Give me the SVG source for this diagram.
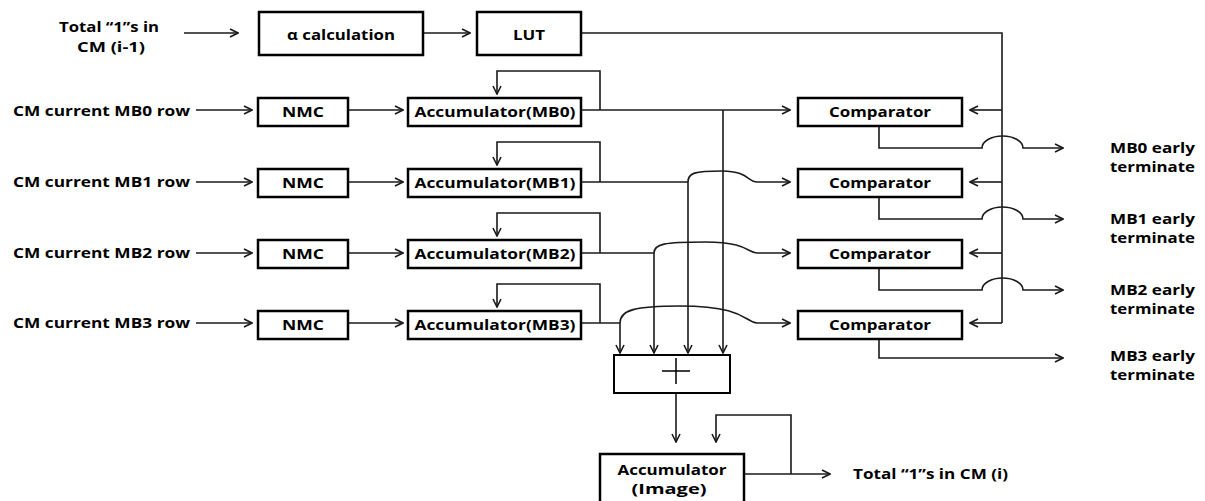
<svg xmlns="http://www.w3.org/2000/svg" width="1205" height="501" viewBox="0 0 1205 501">
<style>
.box{fill:#fff;stroke:#000;stroke-width:2.5}
.c{fill:none;stroke:#1a1a1a;stroke-width:1.6}
.ca{fill:none;stroke:#1a1a1a;stroke-width:1.6;marker-end:url(#ah)}
text{font-family:"Open Sans","Liberation Sans",sans-serif;font-weight:700;font-size:15px;fill:#000}
.m{text-anchor:middle}
</style>
<defs>
<marker id="ah" viewBox="0 0 10 10" refX="9" refY="5" markerWidth="10" markerHeight="10" markerUnits="userSpaceOnUse" orient="auto">
<path d="M1,1 L9,5 L1,9" fill="none" stroke="#1a1a1a" stroke-width="1.6"/>
</marker>
</defs>
<rect width="1205" height="501" fill="#fff"/>

<g id="connectors">
<path class="ca" d="M184,33 H238"/>
<path class="ca" d="M423,33 H470"/>
<path class="c" d="M581,33 H1002 V323"/>
<path class="ca" d="M1002,110 H970"/>
<path class="ca" d="M1002,182 H970"/>
<path class="ca" d="M1002,253 H970"/>
<path class="ca" d="M1002,323 H970"/>

<path class="ca" d="M196,110 H252"/>
<path class="ca" d="M196,182 H252"/>
<path class="ca" d="M196,253 H252"/>
<path class="ca" d="M196,323 H252"/>

<path class="ca" d="M348,110 H403"/>
<path class="ca" d="M348,182 H403"/>
<path class="ca" d="M348,253 H403"/>
<path class="ca" d="M348,323 H403"/>

<path class="ca" d="M600,110 V71 H497 V94"/>
<path class="ca" d="M600,182 V142 H497 V165"/>
<path class="ca" d="M600,253 V213 H497 V236"/>
<path class="ca" d="M600,323 V284 H497 V307"/>

<path class="ca" d="M581,110 H790"/>
<path class="ca" d="M723,110 V353"/>
<path class="c" d="M581,182 H688"/>
<path class="ca" d="M688,182 V353"/>
<path class="ca" d="M688,182 C688,173 694,171 722,171 C748,171 748,182 757,182 H790"/>
<path class="c" d="M581,253 H654"/>
<path class="ca" d="M654,253 V353"/>
<path class="ca" d="M654,253 C654,244 664,242 705,242 C748,242 748,253 757,253 H790"/>
<path class="c" d="M581,323 H620"/>
<path class="ca" d="M620,323 V353"/>
<path class="ca" d="M620,323 C620,310 635,306 680,306 C745,306 745,322 757,323 H790"/>

<path class="ca" d="M879,126 V148 H982 A20.5,12 0 0 1 1023,148 H1063"/>
<path class="ca" d="M879,197 V219 H982 A20.5,12 0 0 1 1023,219 H1063"/>
<path class="ca" d="M879,268 V290 H982 A20.5,12 0 0 1 1023,290 H1063"/>
<path class="ca" d="M879,339 V358 H1063"/>

<path class="ca" d="M676,393 V442"/>
<path class="ca" d="M744,474 H830"/>
<path class="ca" d="M791,474 V415 H716 V442"/>
</g>

<g id="label-input">
<text x="59" y="32" textLength="100" lengthAdjust="spacingAndGlyphs">Total “1”s in</text>
<text x="77" y="52" textLength="68" lengthAdjust="spacingAndGlyphs">CM (i-1)</text>
</g>
<g id="alpha"><rect class="box" x="259" y="12" width="164" height="43"/><text class="m" x="341" y="40" textLength="108" lengthAdjust="spacingAndGlyphs">α calculation</text></g>
<g id="lut"><rect class="box" x="477" y="12" width="104" height="43"/><text class="m" x="529" y="40" textLength="32" lengthAdjust="spacingAndGlyphs">LUT</text></g>

<g id="label-mb0"><text x="13" y="116" textLength="177" lengthAdjust="spacingAndGlyphs">CM current MB0 row</text></g>
<g id="label-mb1"><text x="13" y="187" textLength="177" lengthAdjust="spacingAndGlyphs">CM current MB1 row</text></g>
<g id="label-mb2"><text x="13" y="258" textLength="177" lengthAdjust="spacingAndGlyphs">CM current MB2 row</text></g>
<g id="label-mb3"><text x="13" y="328" textLength="177" lengthAdjust="spacingAndGlyphs">CM current MB3 row</text></g>

<g id="nmc0"><rect class="box" x="258" y="98" width="90" height="28"/><text class="m" x="303" y="117" textLength="42" lengthAdjust="spacingAndGlyphs">NMC</text></g>
<g id="nmc1"><rect class="box" x="258" y="169" width="90" height="28"/><text class="m" x="303" y="188" textLength="42" lengthAdjust="spacingAndGlyphs">NMC</text></g>
<g id="nmc2"><rect class="box" x="258" y="240" width="90" height="28"/><text class="m" x="303" y="259" textLength="42" lengthAdjust="spacingAndGlyphs">NMC</text></g>
<g id="nmc3"><rect class="box" x="258" y="311" width="90" height="28"/><text class="m" x="303" y="330" textLength="42" lengthAdjust="spacingAndGlyphs">NMC</text></g>

<g id="acc0"><rect class="box" x="408" y="98" width="173" height="28"/><text class="m" x="495" y="117" textLength="161" lengthAdjust="spacingAndGlyphs">Accumulator(MB0)</text></g>
<g id="acc1"><rect class="box" x="408" y="169" width="173" height="28"/><text class="m" x="495" y="188" textLength="161" lengthAdjust="spacingAndGlyphs">Accumulator(MB1)</text></g>
<g id="acc2"><rect class="box" x="408" y="240" width="173" height="28"/><text class="m" x="495" y="259" textLength="161" lengthAdjust="spacingAndGlyphs">Accumulator(MB2)</text></g>
<g id="acc3"><rect class="box" x="408" y="311" width="173" height="28"/><text class="m" x="495" y="330" textLength="161" lengthAdjust="spacingAndGlyphs">Accumulator(MB3)</text></g>

<g id="cmp0"><rect class="box" x="798" y="98" width="164" height="28"/><text class="m" x="880" y="117" textLength="102" lengthAdjust="spacingAndGlyphs">Comparator</text></g>
<g id="cmp1"><rect class="box" x="798" y="169" width="164" height="28"/><text class="m" x="880" y="188" textLength="102" lengthAdjust="spacingAndGlyphs">Comparator</text></g>
<g id="cmp2"><rect class="box" x="798" y="240" width="164" height="28"/><text class="m" x="880" y="259" textLength="102" lengthAdjust="spacingAndGlyphs">Comparator</text></g>
<g id="cmp3"><rect class="box" x="798" y="311" width="164" height="28"/><text class="m" x="880" y="330" textLength="102" lengthAdjust="spacingAndGlyphs">Comparator</text></g>

<g id="out-mb0"><text x="1110" y="153" textLength="85" lengthAdjust="spacingAndGlyphs">MB0 early</text><text x="1110" y="172" textLength="85" lengthAdjust="spacingAndGlyphs">terminate</text></g>
<g id="out-mb1"><text x="1110" y="224" textLength="85" lengthAdjust="spacingAndGlyphs">MB1 early</text><text x="1110" y="243" textLength="85" lengthAdjust="spacingAndGlyphs">terminate</text></g>
<g id="out-mb2"><text x="1110" y="295" textLength="85" lengthAdjust="spacingAndGlyphs">MB2 early</text><text x="1110" y="314" textLength="85" lengthAdjust="spacingAndGlyphs">terminate</text></g>
<g id="out-mb3"><text x="1110" y="361" textLength="85" lengthAdjust="spacingAndGlyphs">MB3 early</text><text x="1110" y="380" textLength="85" lengthAdjust="spacingAndGlyphs">terminate</text></g>

<g id="adder"><rect x="614" y="355" width="116" height="38" fill="#fff" stroke="#000" stroke-width="2"/><path d="M662,371 H690 M676,358 V384" stroke="#000" stroke-width="1.5" fill="none"/></g>

<g id="acc-image"><rect class="box" x="600" y="454" width="144" height="50"/><text class="m" x="672" y="475" textLength="109" lengthAdjust="spacingAndGlyphs">Accumulator</text><text class="m" x="669" y="494" textLength="75" lengthAdjust="spacingAndGlyphs">(Image)</text></g>

<g id="label-output"><text x="853" y="479" textLength="155" lengthAdjust="spacingAndGlyphs">Total “1”s in CM (i)</text></g>
</svg>
